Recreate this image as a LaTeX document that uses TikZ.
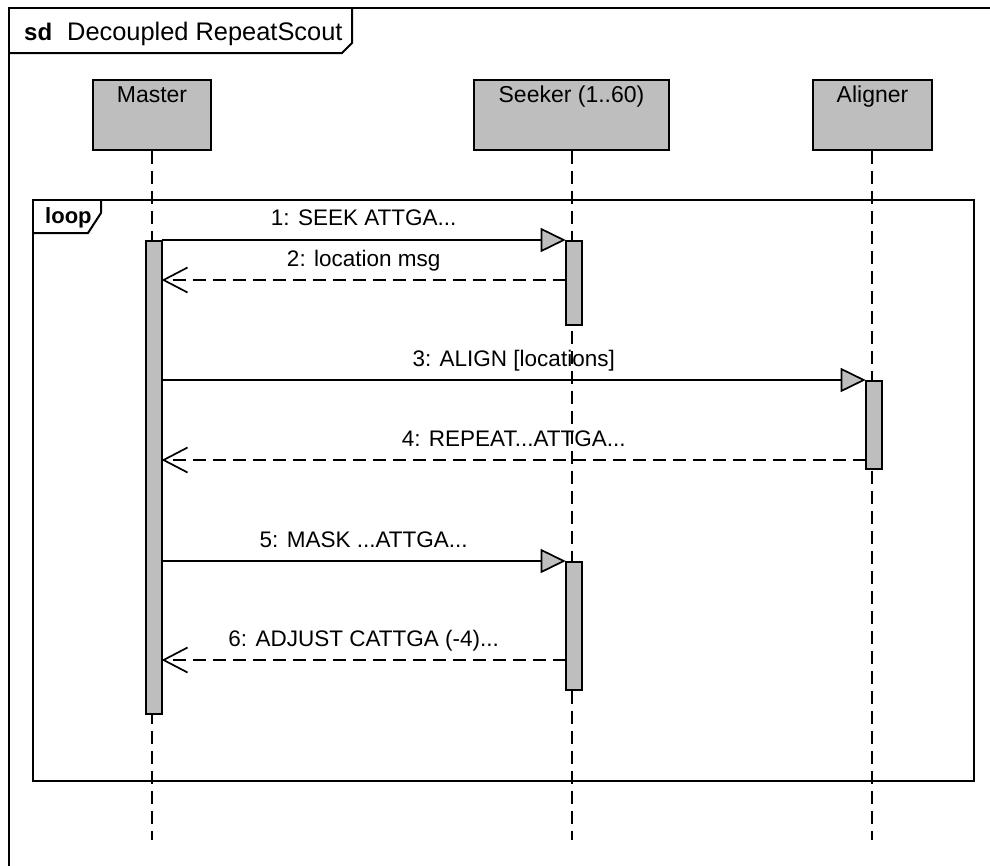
\documentclass[tikz,border=0pt]{standalone}
\usepackage{fontspec}
\setmainfont{Liberation Sans}
\usetikzlibrary{arrows.meta}
\definecolor{umlgray}{HTML}{BEBEBE}
\tikzset{
  frameline/.style={draw=black, line width=2pt},
  headbox/.style={draw=black, line width=1.8pt, fill=umlgray, minimum height=70pt, inner sep=0pt},
  lifeline/.style={draw=black, line width=1.8pt, dash pattern=on 13pt off 7pt},
  actbar/.style={draw=black, line width=1.7pt, fill=umlgray, minimum width=16pt, inner sep=0pt, anchor=north},
  syncmsg/.style={draw=black, line width=1.7pt, -{Triangle[length=25pt, width=24pt, fill=umlgray, line width=1.7pt]}},
  replymsg/.style={draw=black, line width=1.7pt, dash pattern=on 13pt off 7pt, -{Straight Barb[length=24pt, width=25pt, line width=1.7pt]}},
  msgtext/.style={font=\fontsize{22.5}{26}\selectfont, anchor=base, inner sep=0pt},
  headtext/.style={font=\fontsize{23}{26}\selectfont, anchor=base, inner sep=0pt},
}
\begin{document}
\begin{tikzpicture}[x=1pt, y=-1pt]
\useasboundingbox (0,0) rectangle (990,865);
\fill[white] (0,0) rectangle (990,865);

% outer sequence-diagram frame and its name tag
\draw[frameline] (1000,8) -- (9,8) -- (9,880);
\draw[frameline] (9,53) -- (342,53) -- (352,43) -- (352,8);
\node[anchor=base west, inner sep=0pt, font=\fontsize{24}{28}\selectfont\bfseries] (sdtag) at (24,40) {sd};
\node[anchor=base west, inner sep=0pt, font=\fontsize{25.4}{30}\selectfont] (sdname) at (67,40) {Decoupled RepeatScout};

% lifeline heads
\node[headbox, minimum width=118pt] (master) at (152,115) {};
\node[headbox, minimum width=195pt] (seeker) at (571.5,115) {};
\node[headbox, minimum width=119pt] (aligner) at (872.5,115) {};
\node[headtext] (masterlbl) at (152,102) {Master};
\node[headtext] (seekerlbl) at (571.5,102) {Seeker (1..60)};
\node[headtext] (alignerlbl) at (872.5,102) {Aligner};

% lifelines
\coordinate (mEnd) at (151.7,840);
\coordinate (sEnd) at (571.7,840);
\coordinate (aEnd) at (871.7,840);
\draw[lifeline] (master.south -| mEnd) -- (mEnd);
\draw[lifeline] (seeker.south -| sEnd) -- (sEnd);
\draw[lifeline] (aligner.south -| aEnd) -- (aEnd);

% loop combined fragment
\draw[frameline] (33,200) rectangle (974,781);
\draw[frameline] (33,233) -- (88,233) -- (101,213) -- (101,200);
\node[anchor=base west, inner sep=0pt, font=\fontsize{22}{26}\selectfont\bfseries] (looptag) at (45,223) {loop};

% activation bars
\node[actbar, minimum height=473pt] (mAct) at (153.7,240) {};
\node[actbar, minimum height=84pt] (sAct1) at (573.7,240) {};
\node[actbar, minimum height=88pt] (aAct) at (873.7,380) {};
\node[actbar, minimum height=128pt] (sAct2) at (573.7,561) {};

% message end points on the activation bars
\coordinate (m1a) at (161.7,240);  \coordinate (m1b) at (565.7,240);
\coordinate (m2a) at (565.7,280);  \coordinate (m2b) at (161.7,280);
\coordinate (m3a) at (161.7,380);  \coordinate (m3b) at (865.7,380);
\coordinate (m4a) at (865.7,460);  \coordinate (m4b) at (161.7,460);
\coordinate (m5a) at (161.7,561);  \coordinate (m5b) at (565.7,561);
\coordinate (m6a) at (565.7,660);  \coordinate (m6b) at (161.7,660);

% messages
\draw[syncmsg] (m1a) -- (m1b) node[msgtext, midway, yshift=15pt] (l1) {1: SEEK ATTGA...};
\draw[replymsg] (m2a) -- (m2b) node[msgtext, midway, yshift=14pt] (l2) {2: location msg};
\draw[syncmsg] (m3a) -- (m3b) node[msgtext, midway, yshift=14pt] (l3) {3: ALIGN [locations]};
\draw[replymsg] (m4a) -- (m4b) node[msgtext, midway, yshift=14pt] (l4) {4: REPEAT...ATTGA...};
\draw[syncmsg] (m5a) -- (m5b) node[msgtext, midway, yshift=14pt] (l5) {5: MASK ...ATTGA...};
\draw[replymsg] (m6a) -- (m6b) node[msgtext, midway, yshift=14pt] (l6) {6: ADJUST CATTGA (-4)...};
\end{tikzpicture}
\end{document}
